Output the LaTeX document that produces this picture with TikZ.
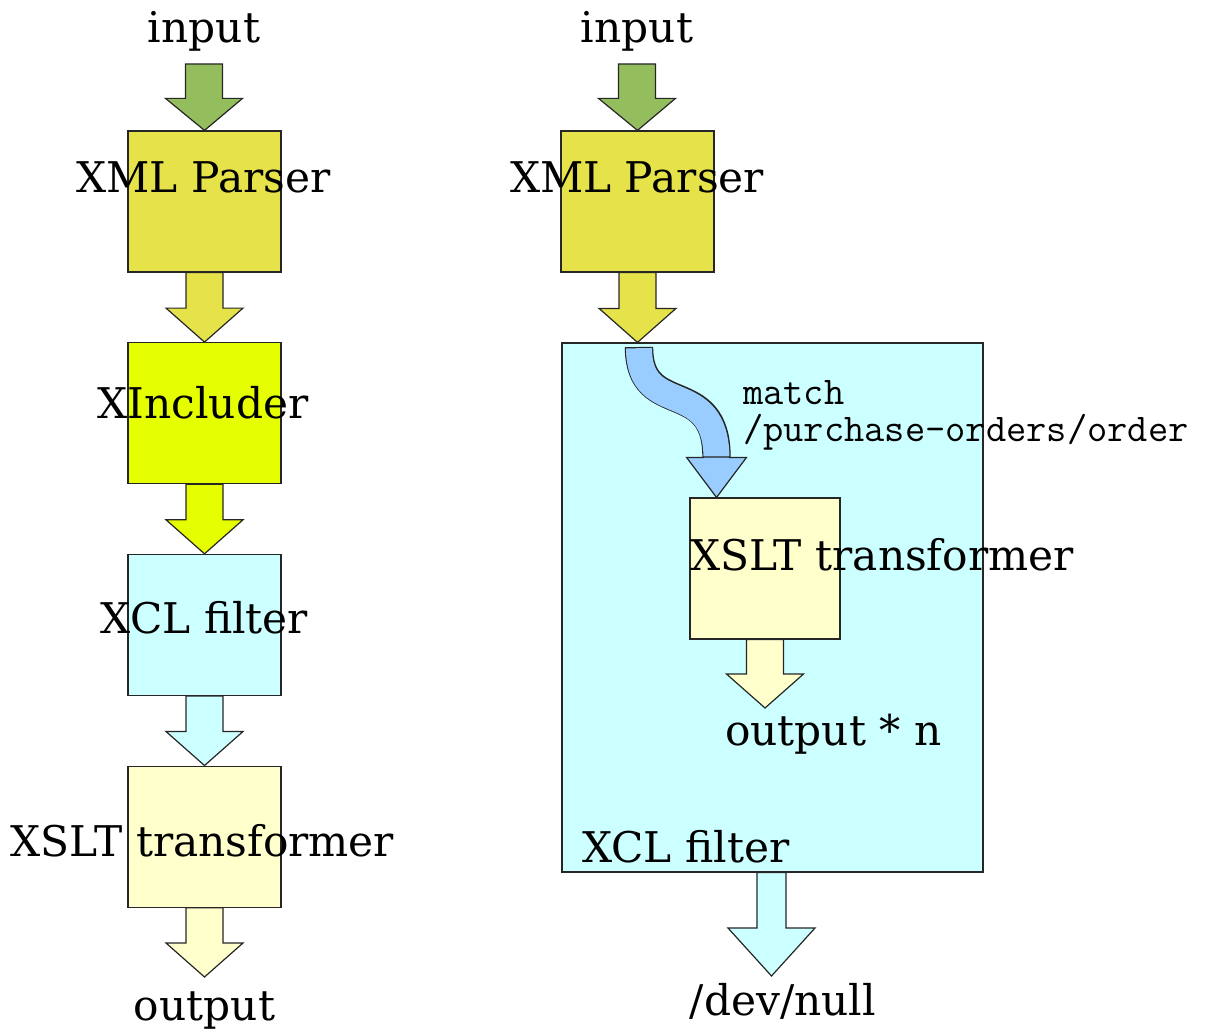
\documentclass[tikz,border=0pt]{standalone}
\usepackage{fontspec}
\setmainfont{DejaVu Serif}
\usetikzlibrary{positioning,calc}
\definecolor{ingreen}{HTML}{94BD5E}
\definecolor{parsercol}{HTML}{E6E34A}
\definecolor{inclcol}{HTML}{E6FF00}
\definecolor{xclcol}{HTML}{CCFFFF}
\definecolor{xsltcol}{HTML}{FFFFCC}
\definecolor{matchcol}{HTML}{99CCFF}
\tikzstyle{stage} = [draw=black!85, line width=1.2pt, rectangle, minimum width=153pt, minimum height=141pt, inner sep=0pt]
\tikzstyle{caption} = [font=\fontsize{42.3}{50}\selectfont, inner sep=0pt, anchor=base]
\tikzstyle{xpath} = [font=\ttfamily\fontsize{39.3}{37}\selectfont, inner sep=0pt, align=left, anchor=base west]
% fat arrow: shaft half width, head half width, head length, fill, from, to
\newcommand{\blockarrowx}[6]{%
  \filldraw[fill=#4, draw=black!85, line width=1.2pt, line join=miter]
    let \p1=(#5), \p2=(#6) in
    ({\x1-#1pt},\y1) -- ({\x1-#1pt},{\y2+#3pt}) -- ({\x1-#2pt},{\y2+#3pt}) -- (\x2,\y2)
    -- ({\x1+#2pt},{\y2+#3pt}) -- ({\x1+#1pt},{\y2+#3pt}) -- ({\x1+#1pt},\y1) -- cycle;}
\newcommand{\blockarrow}[3]{\blockarrowx{18.5}{38.5}{34}{#1}{#2}{#3}}
\newcommand{\matchpath}{.. controls (639,420) and (716.5,375) ..}
\begin{document}
\begin{tikzpicture}[x=1pt, y=-1pt]
\useasboundingbox (0,0) rectangle (1206,1032);
% left chain
\node[caption] (inL) at (204,43) {input};
\coordinate (inLtail) at (204,64);
\node[stage, fill=parsercol] (parseL) at (204.5,201.5) {};
\node[stage, fill=inclcol, below=69.5pt of parseL] (inclL) {};
\node[stage, fill=xclcol, below=69.5pt of inclL] (xclL) {};
\node[stage, fill=xsltcol, below=69.5pt of xclL] (xsltL) {};
\node[caption] (outL) at (204.5,1020) {output};
\coordinate (outLtip) at (204.5,977);
\blockarrowx{18.5}{38.5}{32}{ingreen}{inLtail}{parseL.north}
\blockarrow{parsercol}{parseL.south}{inclL.north}
\blockarrow{inclcol}{inclL.south}{xclL.north}
\blockarrow{xclcol}{xclL.south}{xsltL.north}
\blockarrow{xsltcol}{xsltL.south}{outLtip}
\node[caption] (parseLt) at (203.5,193) {XML Parser};
\node[caption] (inclLt) at (203,418) {XIncluder};
\node[caption] (xclLt) at (204.5,633) {XCL filter};
\node[caption] (xsltLt) at (202.5,856) {XSLT transformer};
% right chain
\node[caption] (inR) at (637,43) {input};
\coordinate (inRtail) at (637,64);
\node[stage, fill=parsercol] (parseR) at (637.5,201.5) {};
\node[stage, fill=xclcol, minimum width=421pt, minimum height=529pt] (xclR) at (772.5,607.5) {};
\node[stage, fill=xsltcol, minimum width=150pt] (xsltR) at (765,568.5) {};
\coordinate (mtail) at (639,347);
\coordinate (mbend) at (716.5,457);
\coordinate (outRtip) at (765,708);
\coordinate (nulltip) at (771.5,976);
\blockarrowx{18.5}{38.5}{32}{ingreen}{inRtail}{parseR.north}
\blockarrow{parsercol}{parseR.south}{xclR.north -| parseR.south}
\blockarrow{xsltcol}{xsltR.south}{outRtip}
\blockarrowx{14.5}{43.5}{48}{xclcol}{xclR.south -| nulltip}{nulltip}
% curved match arrow
\draw[black!85, line width=28.4pt] (mtail) \matchpath (mbend);
\draw[matchcol, line width=26pt] (639,348.2) \matchpath (716.5,459);
\blockarrowx{13}{30}{40}{matchcol}{mbend}{mbend |- xsltR.north}
\node[caption] (parseRt) at (637,193) {XML Parser};
\node[caption, anchor=base west] (xsltRt) at (690,570) {XSLT transformer};
\node[caption, anchor=base west] (outRt) at (725,745) {output * n};
\node[caption, anchor=base west] (xclRt) at (582,862) {XCL filter};
\node[caption] (nullt) at (783,1015) {/dev/null};
\node[xpath] (matcht) at (743,441) {match\\/purchase-orders/order};
\end{tikzpicture}
\end{document}
